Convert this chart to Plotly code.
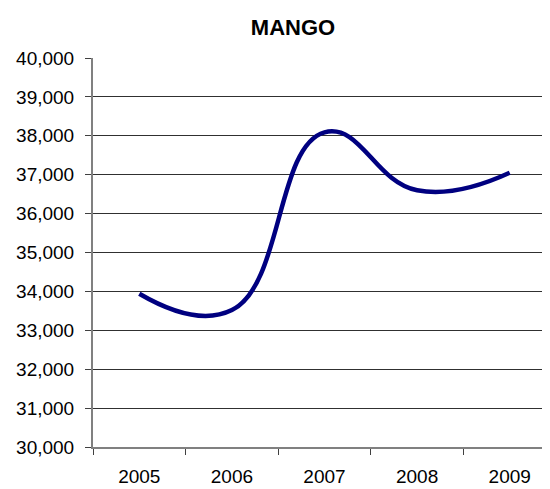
import plotly.graph_objects as go

years = ["2005", "2006", "2007", "2008", "2009"]
values = [33940, 33520, 38090, 36600, 37050]

# The page body has an 8px default margin, so the figure is offset by (8, 8).
W, H = 542, 481

fig = go.Figure()
fig.add_trace(go.Scatter(
    x=years, y=values, mode="lines",
    line=dict(color="#000080", width=4.5, shape="spline", smoothing=1.3),
    hoverinfo="x+y", showlegend=False,
))

fig.update_layout(
    width=W, height=H,
    margin=dict(l=85, r=0, t=50, b=42),
    paper_bgcolor="white", plot_bgcolor="white",
    font=dict(family="Liberation Sans, Arial, sans-serif", size=19, color="black"),
    title=dict(text="<b>MANGO</b>", x=285/W, xref="container", xanchor="center",
               y=1 - 19/H, yref="container", yanchor="middle",
               font=dict(size=22, color="black")),
    xaxis=dict(
        type="category", range=[-0.5, 4.435], automargin=False,
        showgrid=False, showline=True, linecolor="#808080", linewidth=2,
        ticks="outside", tickson="boundaries", ticklen=6, tickcolor="#404040",
        tickfont=dict(size=19), ticklabelstandoff=11,
        zeroline=False,
    ),
    yaxis=dict(
        range=[30000, 40000], dtick=1000, tickformat=",d", automargin=False,
        showgrid=True, gridcolor="#303030", gridwidth=1,
        showline=True, linecolor="#808080", linewidth=2,
        ticks="outside", ticklen=6, tickcolor="#404040",
        tickfont=dict(size=19), ticklabelstandoff=7,
        zeroline=False,
    ),
)

fig.write_html("out.html")
